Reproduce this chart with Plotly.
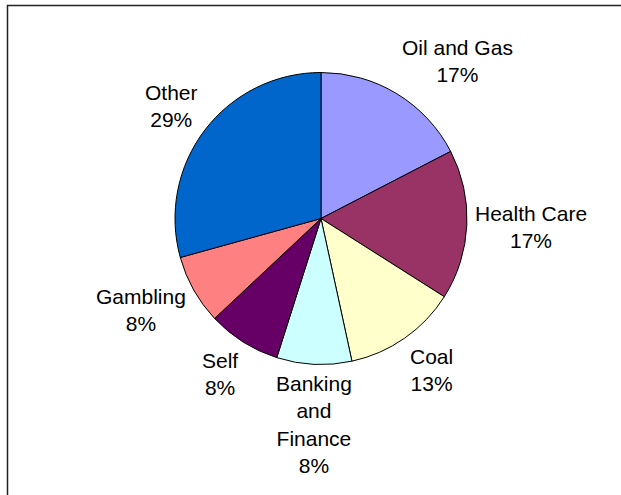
import math
import plotly.graph_objects as go

labels = ["Oil and Gas", "Health Care", "Coal", "Banking and Finance", "Self", "Gambling", "Other"]
label_text = ["Oil and Gas", "Health Care", "Coal", "Banking<br>and<br>Finance", "Self", "Gambling", "Other"]
values = [17.4, 16.6, 12.6, 8.3, 8.1, 7.7, 29.3]
colors = ["#9999FF", "#993366", "#FFFFCC", "#CCFFFF", "#660066", "#FF8080", "#0066CC"]

W, H = 621, 495
CX, CY, R = 321, 218.5, 146
FS = 21
FONT = dict(family="Liberation Sans, Arial, sans-serif", size=FS, color="#000000")

fig = go.Figure(go.Pie(
    labels=labels, values=values, sort=False, direction="clockwise", rotation=0,
    marker=dict(colors=colors, line=dict(color="#000000", width=1)),
    textinfo="none", hoverinfo="label+percent", showlegend=False,
    domain=dict(x=[(CX - R) / W, (CX + R) / W], y=[1 - (CY + R) / H, 1 - (CY - R) / H]),
))

total = sum(values)
cum = 0.0
gap = 6
annotations = []
for txt, v in zip(label_text, values):
    mid = (cum + v / 2) / total * 2 * math.pi
    cum += v
    ux, uy = math.sin(mid), -math.cos(mid)  # uy: screen down positive
    px = CX + (R + gap) * ux
    py = CY + (R + gap) * uy
    xa = "left" if ux > 0.25 else ("right" if ux < -0.25 else "center")
    text = f"{txt}<br>{round(v / total * 100)}%"
    box_h = (text.count("<br>") + 1) * FS * 1.3
    s = max(-1.0, min(1.0, uy / 0.8))
    annotations.append(dict(
        x=px / W, y=1 - py / H, xref="paper", yref="paper",
        text=text, showarrow=False, xanchor=xa, yanchor="middle",
        yshift=-s * box_h / 2, align="center", font=FONT,
    ))

fig.update_layout(
    width=W, height=H, margin=dict(l=0, r=0, t=0, b=0),
    paper_bgcolor="#FFFFFF", plot_bgcolor="#FFFFFF",
    annotations=annotations,
    shapes=[dict(type="rect", xref="paper", yref="paper",
                 x0=7.5 / W, x1=2.0, y0=-1.0, y1=1 - 5.5 / H,
                 line=dict(color="#222222", width=1.5), fillcolor="rgba(0,0,0,0)")],
)

fig.write_html(
    "out.html",
    config={"displayModeBar": False},
    post_script="document.body.style.margin='0';document.body.style.overflow='hidden';",
)
